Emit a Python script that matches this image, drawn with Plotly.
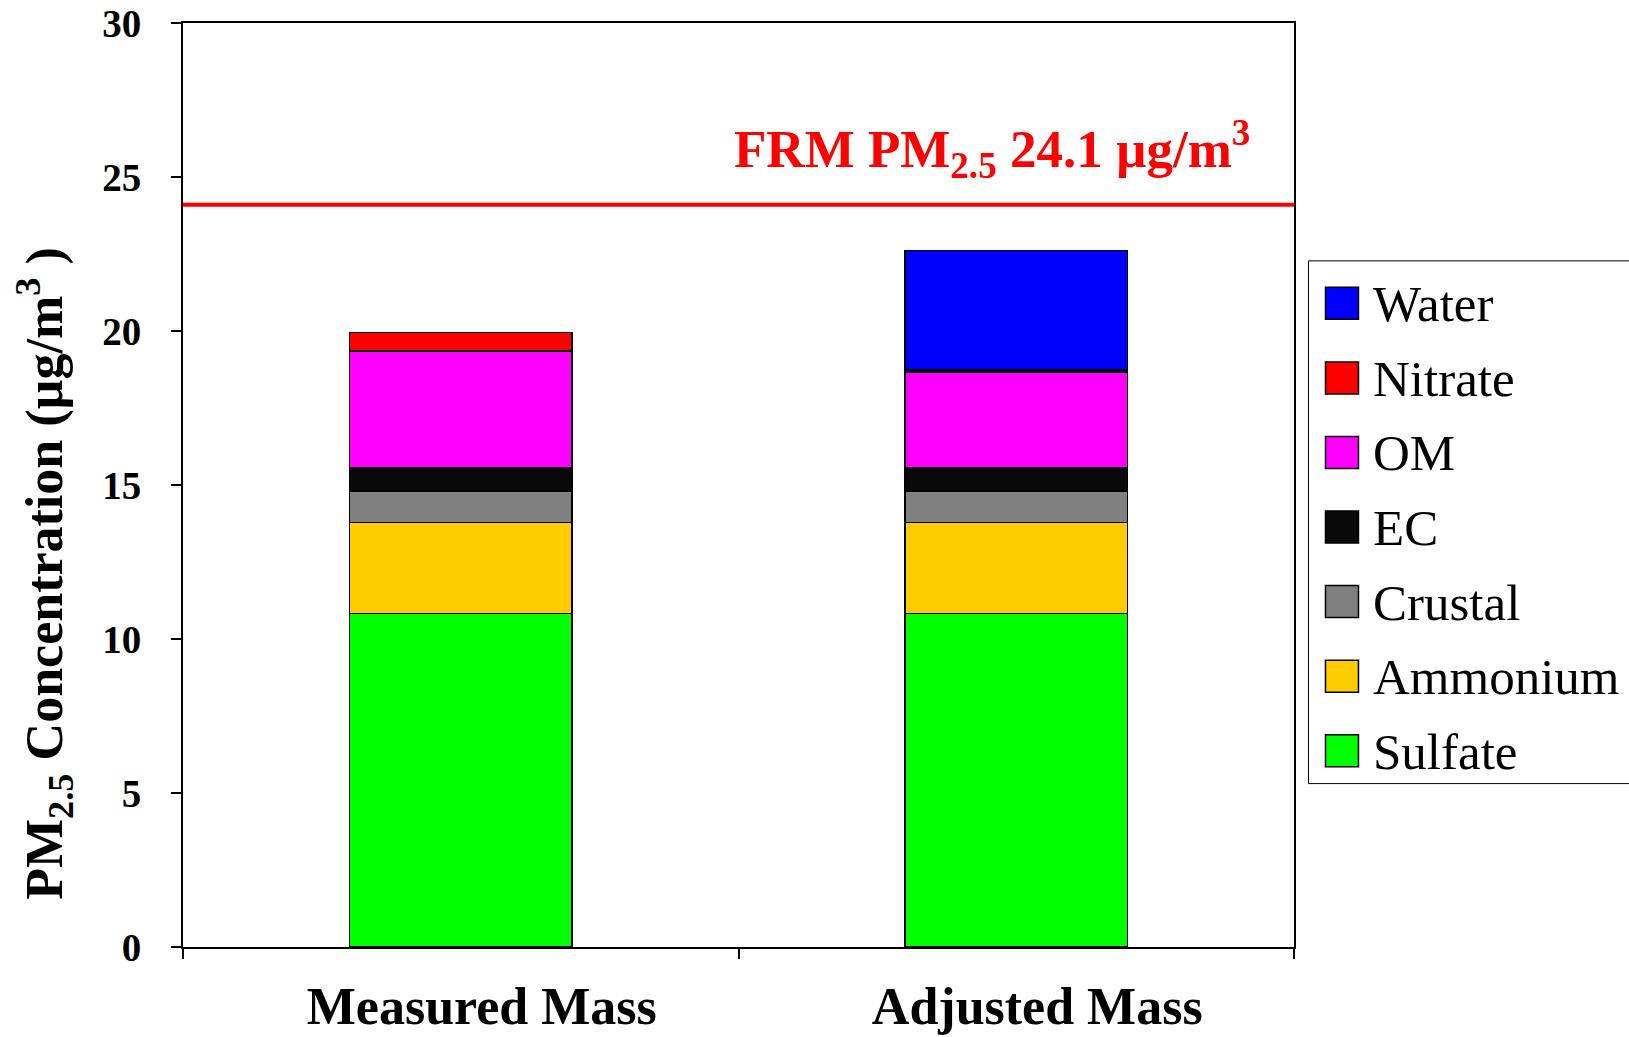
import plotly.graph_objects as go

# Data
categories = ["Measured Mass", "Adjusted Mass"]
species = ["Sulfate", "Ammonium", "Crustal", "EC", "OM", "Nitrate", "Water"]
colors = ["#00FF00", "#FFCC00", "#808080", "#0A0A0A", "#FF00FF", "#FF0000", "#0000FF"]
sulfate = [10.82, 10.82]
ammonium = [2.97, 2.97]
crustal = [1.01, 1.01]
ec = [0.77, 0.77]
om = [3.78, 3.10]
nitrate = [0.60, 0.06]
water = [0.0, 3.88]
frm_pm25 = 24.1
y_ticks = [0, 5, 10, 15, 20, 25, 30]

values = [sulfate, ammonium, crustal, ec, om, nitrate, water]

W, H = 1629, 1037
L, R, T, B = 183, 1294.5, 23, 947.5
SERIF = "Liberation Serif, Times New Roman, serif"


def px_x(px):
    return (px - L) / (R - L)


def px_y(py):
    return (B - py) / (B - T)


fig = go.Figure()
for name, col, vals in zip(species, colors, values):
    fig.add_trace(go.Bar(
        x=categories, y=vals, name=name,
        marker=dict(color=col, line=dict(color="black", width=1.5)),
        showlegend=False,
    ))

# FRM reference line
fig.add_shape(type="line", xref="paper", yref="y", x0=0, x1=1,
              y0=frm_pm25, y1=frm_pm25, line=dict(color="#FF0000", width=4))
fig.add_annotation(
    xref="paper", yref="y", x=px_x(1252), y=frm_pm25,
    xanchor="right", yanchor="bottom", yshift=17, showarrow=False,
    text=f"<b>FRM PM<sub>2.5</sub> {frm_pm25} µg/m<sup>3</sup></b>",
    font=dict(family=SERIF, size=53, color="#FF0000"),
)

# Y axis title
fig.add_annotation(
    xref="paper", yref="paper", x=px_x(45), y=px_y(574),
    textangle=-90, showarrow=False, xanchor="center", yanchor="middle",
    text="<b>PM<sub>2.5</sub> Concentration (µg/m<sup>3</sup> )</b>",
    font=dict(family=SERIF, size=52, color="black"),
)

# Legend box with swatches (top entry is the last stacked series)
fig.add_shape(type="rect", xref="paper", yref="paper",
              x0=px_x(1309), x1=px_x(1660), y0=px_y(784), y1=px_y(261),
              line=dict(color="black", width=1), fillcolor="white")
row0, step = 303.5, 74.6
for i, (name, col) in enumerate(zip(species[::-1], colors[::-1])):
    cy = row0 + i * step
    fig.add_shape(type="rect", xref="paper", yref="paper",
                  x0=px_x(1326), x1=px_x(1359), y0=px_y(cy + 16), y1=px_y(cy - 16),
                  line=dict(color="black", width=1.5), fillcolor=col)
    fig.add_annotation(xref="paper", yref="paper", x=px_x(1372), y=px_y(cy + 1),
                       xanchor="left", yanchor="middle", showarrow=False,
                       text=name, font=dict(family=SERIF, size=51, color="black"))

fig.update_layout(
    width=W, height=H,
    margin=dict(l=L, r=W - R, t=T, b=H - B),
    barmode="stack", bargap=0.6,
    plot_bgcolor="white", paper_bgcolor="white",
    showlegend=False,
    font=dict(family=SERIF, color="black"),
)
fig.update_xaxes(
    showline=True, linecolor="black", linewidth=2, mirror=True,
    ticks="outside", ticklen=10, tickwidth=1.5, tickcolor="black",
    tickson="boundaries", showgrid=False, ticklabelstandoff=13,
    ticklabelshift=21, automargin=False,
    tickfont=dict(family=SERIF, size=52, color="black", weight="bold"),
)
fig.update_yaxes(
    range=[0, 30], tickvals=y_ticks, showline=True, linecolor="black",
    linewidth=2, mirror=True, ticks="outside", ticklen=10, tickwidth=1.5,
    tickcolor="black", showgrid=False, zeroline=False, ticklabelstandoff=22,
    automargin=False,
    tickfont=dict(family=SERIF, size=39, color="black", weight="bold"),
)

fig.write_html("out.html")
